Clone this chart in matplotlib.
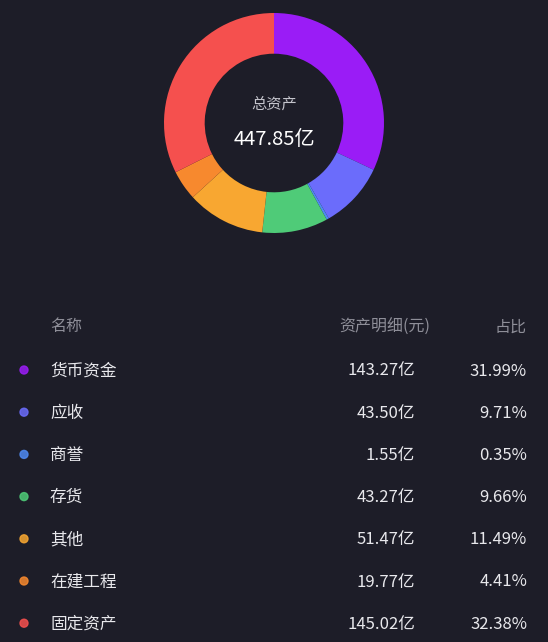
import matplotlib
matplotlib.use("Agg")
import matplotlib.pyplot as plt

plt.rcParams['font.family'] = ['Noto Sans CJK SC', 'DejaVu Sans']

names = ["货币资金", "应收", "商誉", "存货", "其他", "在建工程", "固定资产"]
values = [143.27, 43.50, 1.55, 43.27, 51.47, 19.77, 145.02]
percents = ["31.99%", "9.71%", "0.35%", "9.66%", "11.49%", "4.41%", "32.38%"]
colors = ["#9A1CF6", "#6B6CFB", "#4F8AF2", "#4FCB78", "#F8A731", "#F7892E", "#F5504E"]
total_label = "447.85亿"
headers = ["名称", "资产明细(元)", "占比"]

W, H = 548, 642
bg = "#1D1D28"
fig = plt.figure(figsize=(W / 100, H / 100), dpi=100, facecolor=bg)

# donut
cx, cy, r = 274, 123, 110
ax = fig.add_axes([(cx - r) / W, 1 - (cy + r) / H, 2 * r / W, 2 * r / H])
ax.set_facecolor(bg)
ax.pie(values, colors=colors, startangle=90, counterclock=False,
       wedgeprops=dict(width=0.37, edgecolor='none'), radius=1)
ax.set_aspect('equal')
ax.set_xlim(-1, 1)
ax.set_ylim(-1, 1)
ax.axis('off')
ax.text(0, 0.17, "总资产", ha='center', va='center', color="#C4C4CC", fontsize=11)
ax.text(0, -0.15, total_label, ha='center', va='center', color="#FFFFFF", fontsize=14.5)

def fx(x):
    return x / W

def fy(y):
    return 1 - y / H

# header
hy = 327
fig.text(fx(50), fy(hy), headers[0], ha='left', va='center', color="#8E8E98", fontsize=11.5)
fig.text(fx(430), fy(hy), headers[1], ha='right', va='center', color="#8E8E98", fontsize=11.5)
fig.text(fx(527), fy(hy), headers[2], ha='right', va='center', color="#8E8E98", fontsize=11.5)

row_y0, row_dy = 371, 42.2
for i, (n, v, p, c) in enumerate(zip(names, values, percents, colors)):
    y = row_y0 + i * row_dy
    fig.patches.append(plt.Circle((fx(24) * W, fy(y - 1) * H), 4.0, color=c, alpha=0.85,
                                  transform=None, figure=fig))
    fig.text(fx(50), fy(y), n, ha='left', va='center', color="#E8E8EC", fontsize=12)
    fig.text(fx(415), fy(y), f"{v:.2f}亿", ha='right', va='center', color="#E8E8EC", fontsize=12)
    fig.text(fx(527), fy(y), p, ha='right', va='center', color="#E8E8EC", fontsize=12)

fig.savefig("out.png", dpi=100, facecolor=bg)
